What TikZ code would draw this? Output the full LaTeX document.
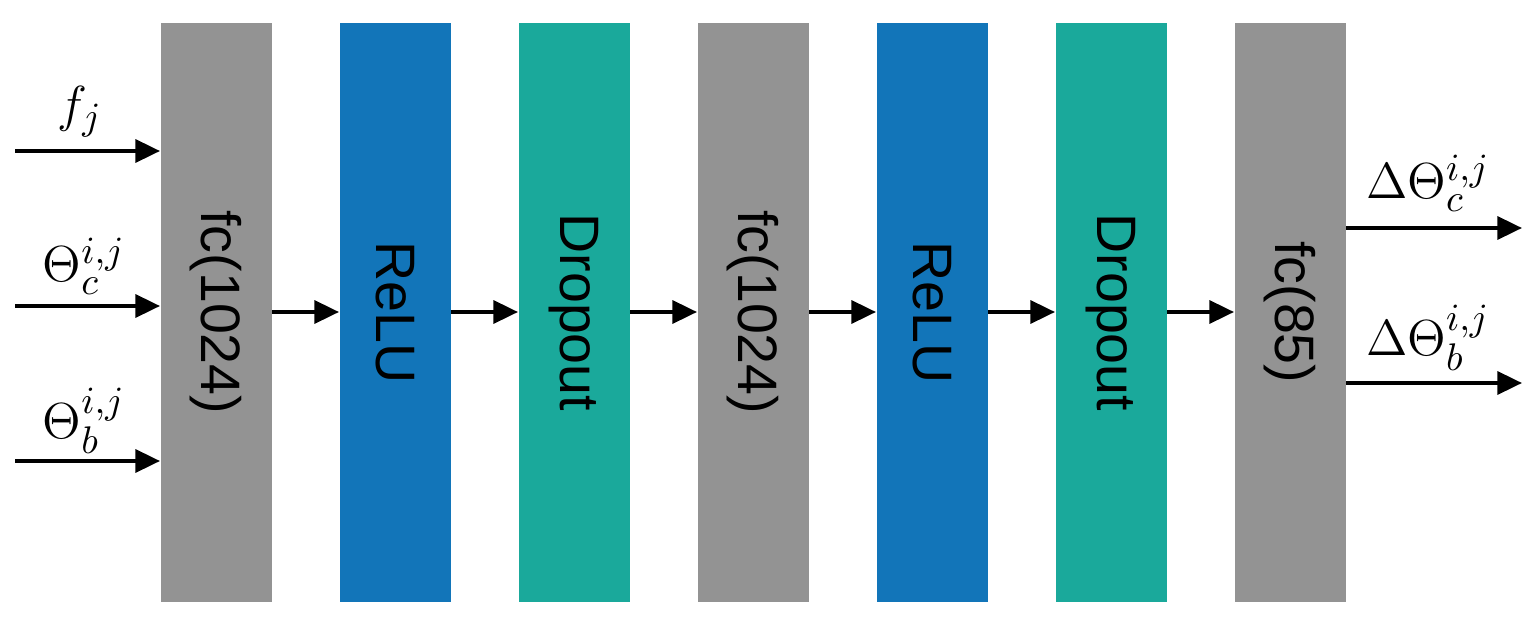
\documentclass[tikz,border=0pt]{standalone}
\usepackage{fontspec}
\setsansfont{Liberation Sans}
\usetikzlibrary{arrows.meta}
\definecolor{cgray}{HTML}{939393}
\definecolor{cblue}{HTML}{1275B9}
\definecolor{cteal}{HTML}{1AA99B}
\begin{document}
\begin{tikzpicture}[x=0.01cm,y=-0.01cm,
  layer/.style={minimum width=1.11cm,minimum height=5.79cm,inner sep=0pt,anchor=north west},
  lab/.style={font=\fontsize{15}{17}\selectfont},
  arr/.style={line width=1.1pt,-{Triangle[length=7pt,width=6.5pt]}}]
\useasboundingbox (0,0) rectangle (1538,618);
\foreach \n/\x/\c/\t in {a/160/cgray/fc(1024),b/339/cblue/ReLU,c/518/cteal/Dropout,d/697/cgray/fc(1024),e/876/cblue/ReLU,f/1055/cteal/Dropout,g/1234/cgray/fc(85)}{
  \node[layer,fill=\c] (\n) at (\x,22) {};
  \node[rotate=-90,font=\sffamily\fontsize{15.8}{18}\selectfont] at (\n.center) {\t};
}
\foreach \p/\q in {a/b,b/c,c/d,d/e,e/f,f/g}{
  \draw[arr] (\p.east|-0,312) -- (\q.west|-0,312);
}
\coordinate (i1) at (15,151); \coordinate (i2) at (15,306); \coordinate (i3) at (15,461);
\draw[arr] (i1) -- (a.west|-i1);
\draw[arr] (i2) -- (a.west|-i2);
\draw[arr] (i3) -- (a.west|-i3);
\node[lab] (l1) at (80,112) {$f_j$};
\node[lab] (l2) at (84,266) {$\Theta_c^{i,j}$};
\node[lab] (l3) at (84,421) {$\Theta_b^{i,j}$};
\coordinate (o1) at (1522,228); \coordinate (o2) at (1522,383);
\draw[arr] (g.east|-o1) -- (o1);
\draw[arr] (g.east|-o2) -- (o2);
\node[lab] (l4) at (1428,183) {$\Delta\Theta_c^{i,j}$};
\node[lab] (l5) at (1428,338) {$\Delta\Theta_b^{i,j}$};
\end{tikzpicture}
\end{document}
